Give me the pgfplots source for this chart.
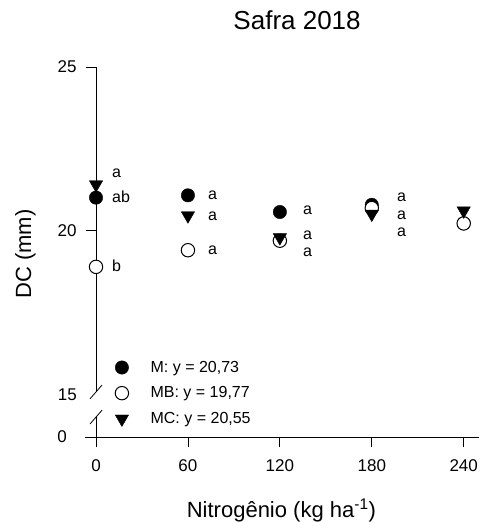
\documentclass[border=0pt]{standalone}
\usepackage{fontspec}
\setmainfont{Liberation Sans}
\usepackage{pgfplots}
\pgfplotsset{compat=1.18}
\begin{document}
\begin{tikzpicture}
\begin{axis}[
  scale only axis, width=383bp, height=370bp,
  xmin=0, xmax=250, ymin=13.67, ymax=25,
  clip=false,
  axis line style={draw=none},
  xtick={0,60,120,180,240}, xtick pos=left,
  ytick={20,25}, ytick pos=left,
  tick align=outside, major tick length=10bp, minor tick num=0,
  tick style={black, line width=0.8bp},
  ticklabel style={font=\fontsize{17bp}{20bp}\selectfont},
  xticklabel style={yshift=-9bp},
  yticklabel style={xshift=-6bp},
  /pgf/number format/assume math mode=true,
  legend cell align=left,
  legend image code/.code={\draw[#1] plot coordinates {(0bp,0bp)};},
  legend style={draw=none, fill=none, at={(axis cs:12.4,16.06)}, anchor=north west,
    inner sep=0pt, font=\fontsize{16bp}{19bp}\selectfont,
    nodes={inner sep=2bp}, row sep=9bp, column sep=20bp},
]
% axes drawn by hand (broken y axis)
\draw[line width=0.8bp] (axis cs:0,25) -- (axis cs:0,15.05);
\draw[line width=0.8bp] (axis cs:0,14.28) -- (axis cs:0,13.67);
\draw[line width=0.8bp] (axis cs:-3.9,14.84) -- (axis cs:3.9,15.26);
\draw[line width=0.8bp] (axis cs:-3.9,14.07) -- (axis cs:3.9,14.49);
\draw[line width=0.8bp] (axis cs:-7.2,13.67) -- (axis cs:250,13.67);
% labels of the broken part of the y axis
\node[anchor=east, inner sep=0pt, font=\fontsize{17bp}{20bp}\selectfont] at (axis cs:0,14.95) [xshift=-19bp] {15};
\node[anchor=east, inner sep=0pt, font=\fontsize{17bp}{20bp}\selectfont] at (axis cs:0,13.67) [xshift=-29bp] {0};

\addplot[only marks, mark=*, mark size=6.7bp, mark options={fill=black, draw=black}]
  coordinates {(0,21.0) (60,21.07) (120,20.56) (180,20.78) (240,20.21)};
\addlegendentry{M: y = 20,73}
\addplot[only marks, mark=*, mark size=6.7bp, mark options={fill=white, draw=black, line width=1bp}]
  coordinates {(0,18.88) (60,19.39) (120,19.68) (180,20.68) (240,20.21)};
\addlegendentry{MB: y = 19,77}
\addplot[only marks, mark=triangle*, mark size=7.7bp, mark options={rotate=180, fill=black, draw=black}]
  coordinates {(0,21.4) (60,20.45) (120,19.78) (180,20.5) (240,20.6)};
\addlegendentry{MC: y = 20,55}

% letters
\begin{scope}[every node/.style={anchor=base west, inner sep=0pt, font=\fontsize{16bp}{19bp}\selectfont}]
\node at (axis cs:10.44,21.61) {a};
\node at (axis cs:10.44,20.86) {ab};
\node at (axis cs:10.44,18.75) {b};
\node at (axis cs:73.1,20.94) {a};
\node at (axis cs:73.1,20.30) {a};
\node at (axis cs:73.1,19.26) {a};
\node at (axis cs:135.1,20.48) {a};
\node at (axis cs:135.1,19.72) {a};
\node at (axis cs:135.1,19.21) {a};
\node at (axis cs:196.4,20.89) {a};
\node at (axis cs:196.4,20.33) {a};
\node at (axis cs:196.4,19.82) {a};
\end{scope}

% title and labels
\node[anchor=base, inner sep=0pt, font=\fontsize{26bp}{30bp}\selectfont] at (rel axis cs:0.525,1) [yshift=38bp] {Safra 2018};
\node[anchor=base, inner sep=0pt, font=\fontsize{22bp}{26bp}\selectfont] at (rel axis cs:0.484,0) [yshift=-80bp] {Nitrogênio (kg ha\textsuperscript{-1})};
\node[anchor=base, rotate=90, inner sep=0pt, font=\fontsize{22bp}{26bp}\selectfont] at (rel axis cs:-0.1697,0.4946) {DC (mm)};

\path (rel axis cs:-0.2507,-0.2297) rectangle (rel axis cs:1.0026,1.1811);
\end{axis}
\end{tikzpicture}
\end{document}
